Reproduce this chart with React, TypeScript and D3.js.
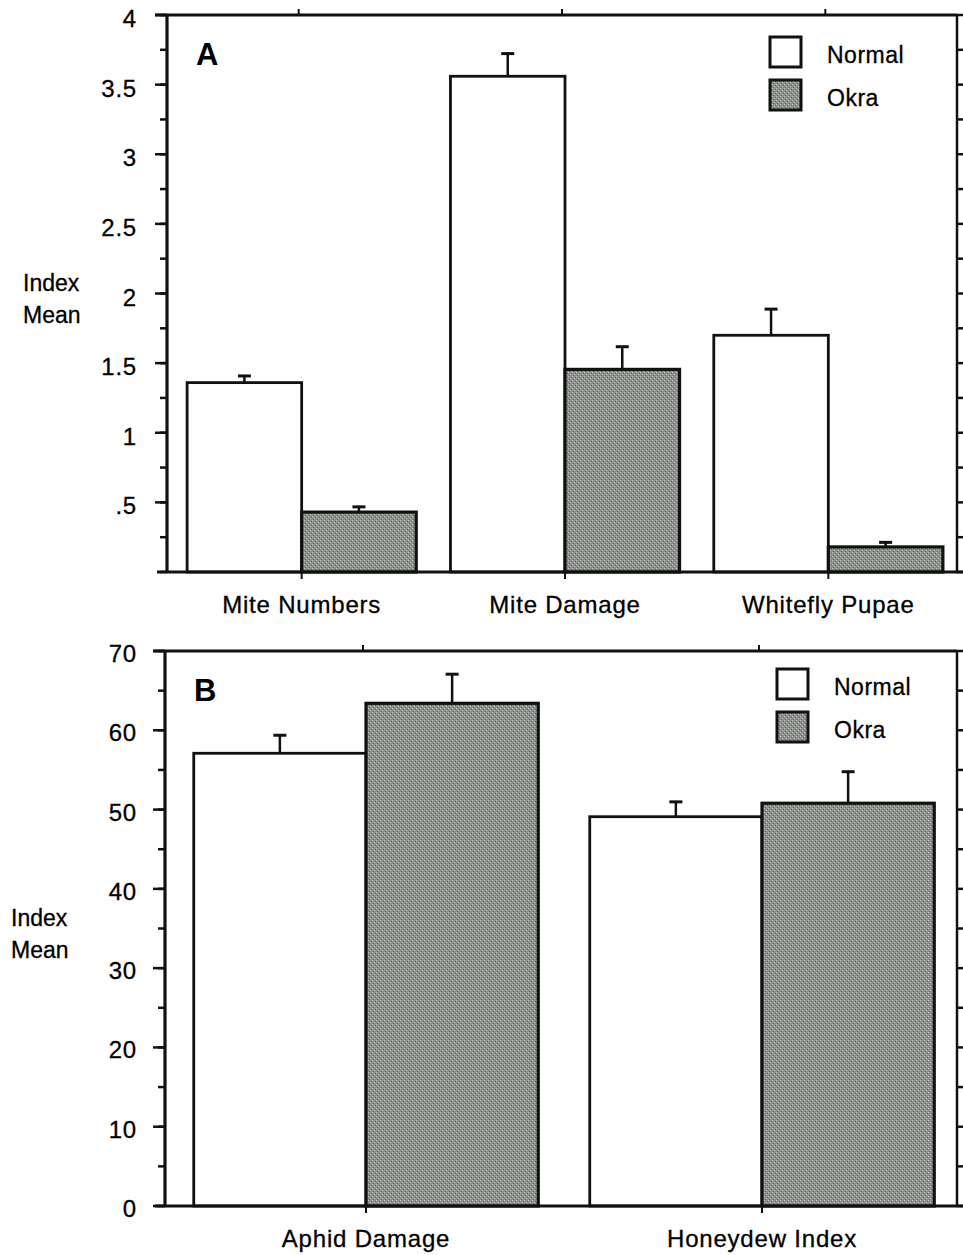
import React from "react";
import * as d3 from "d3";

// panel A
const catsA = ["Mite Numbers", "Mite Damage", "Whitefly Pupae"];
const normalA = [1.36, 3.56, 1.7];
const normalErrA = [0.055, 0.17, 0.195];
const okraA = [0.43, 1.455, 0.18];
const okraErrA = [0.045, 0.17, 0.04];
const ticksA = [0.5, 1, 1.5, 2, 2.5, 3, 3.5, 4];
const tickLabelsA = [".5", "1", "1.5", "2", "2.5", "3", "3.5", "4"];
const minorA = d3.range(0, 4.001, 0.25);

// panel B
const catsB = ["Aphid Damage", "Honeydew Index"];
const normalB = [57.1, 49.1];
const normalErrB = [2.4, 2.0];
const okraB = [63.4, 50.8];
const okraErrB = [3.8, 4.1];
const ticksB = [0, 10, 20, 30, 40, 50, 60, 70];
const tickLabelsB = ["0", "10", "20", "30", "40", "50", "60", "70"];
const minorB = d3.range(0, 70.001, 5);

const seriesNames = ["Normal", "Okra"];

const FONT = "'Liberation Sans', Arial, sans-serif";

type PanelProps = {
  letter: string;
  cats: string[];
  normal: number[];
  normalErr: number[];
  okra: number[];
  okraErr: number[];
  ticks: number[];
  tickLabels: string[];
  minor: number[];
  ymax: number;
  top: number;
  bottom: number;
  left: number;
  right: number;
  titleX: number;
  labelDy: number;
  legendY: number[];
  legendX: number;
};

function Panel(p: PanelProps) {
  const y = d3.scaleLinear().domain([0, p.ymax]).range([p.bottom, p.top]);
  const x = d3
    .scaleBand<string>()
    .domain(p.cats)
    .range([p.left + 3, p.right + 3])
    .paddingInner(0.13)
    .paddingOuter(0.065);
  const sub = d3.scaleBand<string>().domain(seriesNames).range([0, x.bandwidth()]);

  const bars = p.cats.flatMap((c, i) => [
    { c, s: "Normal", v: p.normal[i], e: p.normalErr[i] },
    { c, s: "Okra", v: p.okra[i], e: p.okraErr[i] },
  ]);

  const centers = p.cats.map((c) => (x(c) ?? 0) + x.bandwidth() / 2);

  return (
    <g>
      {/* bars */}
      {bars.map((b, i) => {
        const bx = (x(b.c) ?? 0) + (sub(b.s) ?? 0);
        const w = sub.bandwidth();
        const ty = y(b.v);
        const ey = y(b.v + b.e);
        const cx = bx + w / 2;
        return (
          <g key={i}>
            <rect
              x={bx}
              y={ty}
              width={w}
              height={p.bottom - ty}
              fill={b.s === "Okra" ? "url(#stipple)" : "#fff"}
              stroke="#111"
              strokeWidth={b.s === "Okra" ? 3.2 : 2.8}
            />
            <line x1={cx} x2={cx} y1={ty} y2={ey} stroke="#111" strokeWidth={2.5} />
            <line x1={cx - 6.5} x2={cx + 6.5} y1={ey + 1} y2={ey + 1} stroke="#111" strokeWidth={3} />
          </g>
        );
      })}

      {/* frame */}
      <line x1={p.left - 12} x2={p.right} y1={p.top} y2={p.top} stroke="#111" strokeWidth={3} />
      <line x1={p.left} x2={p.left} y1={p.top} y2={p.bottom} stroke="#111" strokeWidth={3.2} />
      <line x1={p.right} x2={p.right} y1={p.top} y2={p.bottom} stroke="#111" strokeWidth={2.5} />
      <line x1={p.left - 10} x2={963} y1={p.bottom} y2={p.bottom} stroke="#111" strokeWidth={3.2} />

      {/* minor ticks */}
      {p.minor.map((t, i) => (
        <g key={i}>
          <line x1={p.left - 7} x2={p.left} y1={y(t)} y2={y(t)} stroke="#111" strokeWidth={2.5} />
          <line x1={p.right} x2={p.right + 8} y1={y(t)} y2={y(t)} stroke="#111" strokeWidth={2.5} />
        </g>
      ))}
      {/* major ticks + labels */}
      {p.ticks.map((t, i) => (
        <g key={i}>
          <line x1={p.left - 12} x2={p.left} y1={y(t)} y2={y(t)} stroke="#111" strokeWidth={2.5} />
          <text
            x={137}
            y={y(t) + p.labelDy}
            textAnchor="end"
            fontSize={24}
            letterSpacing={0.8}
            fontFamily={FONT}
            fill="#000"
            stroke="#000"
            strokeWidth={0.3}
          >
            {p.tickLabels[i]}
          </text>
        </g>
      ))}

      {/* category ticks and labels */}
      {centers.map((cx, i) => (
        <g key={i}>
          <line x1={cx} x2={cx} y1={p.bottom} y2={p.bottom + 7} stroke="#111" strokeWidth={2} />
          <line x1={cx - 3} x2={cx - 3} y1={p.top} y2={p.top - 6} stroke="#111" strokeWidth={2} />
          <text
            x={cx}
            y={p.bottom + 41}
            textAnchor="middle"
            fontSize={24}
            letterSpacing={0.8}
            fontFamily={FONT}
            fill="#000"
            stroke="#000"
            strokeWidth={0.3}
          >
            {p.cats[i]}
          </text>
        </g>
      ))}

      {/* y title */}
      <text x={p.titleX} y={(p.top + p.bottom) / 2 - 3} fontSize={23} fontFamily={FONT} fill="#000" stroke="#000" strokeWidth={0.3}>
        Index
      </text>
      <text x={p.titleX} y={(p.top + p.bottom) / 2 + 29} fontSize={23} fontFamily={FONT} fill="#000" stroke="#000" strokeWidth={0.3}>
        Mean
      </text>

      {/* panel letter */}
      <text x={p.left + 29} y={p.top + 50} fontSize={31} fontWeight="bold" fontFamily={FONT} fill="#000">
        {p.letter}
      </text>

      {/* legend */}
      {seriesNames.map((s, i) => (
        <g key={s}>
          <rect
            x={p.legendX}
            y={p.top + p.legendY[i]}
            width={31}
            height={30}
            fill={s === "Okra" ? "url(#stipple)" : "#fff"}
            stroke="#111"
            strokeWidth={3}
          />
          <text
            x={p.legendX + 57}
            y={p.top + p.legendY[i] + 26}
            fontSize={23}
            letterSpacing={0.5}
            fontFamily={FONT}
            fill="#000"
            stroke="#000"
            strokeWidth={0.3}
          >
            {s}
          </text>
        </g>
      ))}
    </g>
  );
}

export default function App() {
  return (
    <svg
      width={963}
      height={1255}
      style={{ position: "absolute", left: 0, top: 0, background: "#fff" }}
    >
      <defs>
        <pattern id="stipple" width={4} height={4} patternUnits="userSpaceOnUse">
          <rect width={4} height={4} fill="#8b908b" />
          <rect x={0} y={0} width={1} height={1} fill="#c4c7c4" />
          <rect x={2} y={2} width={1} height={1} fill="#c4c7c4" />
          <rect x={1} y={3} width={1} height={1} fill="#656965" />
          <rect x={3} y={1} width={1} height={1} fill="#656965" />
        </pattern>
      </defs>
      <rect width={963} height={1255} fill="#fff" />
      <Panel
        letter="A"
        cats={catsA}
        normal={normalA}
        normalErr={normalErrA}
        okra={okraA}
        okraErr={okraErrA}
        ticks={ticksA}
        tickLabels={tickLabelsA}
        minor={minorA}
        ymax={4}
        top={15}
        bottom={572}
        left={167}
        right={957}
        titleX={23}
        labelDy={12}
        legendY={[22, 65]}
        legendX={770}
      />
      <Panel
        letter="B"
        cats={catsB}
        normal={normalB}
        normalErr={normalErrB}
        okra={okraB}
        okraErr={okraErrB}
        ticks={ticksB}
        tickLabels={tickLabelsB}
        minor={minorB}
        ymax={70}
        top={651}
        bottom={1206}
        left={165}
        right={957}
        titleX={11}
        labelDy={11}
        legendY={[18, 61]}
        legendX={777}
      />
    </svg>
  );
}
